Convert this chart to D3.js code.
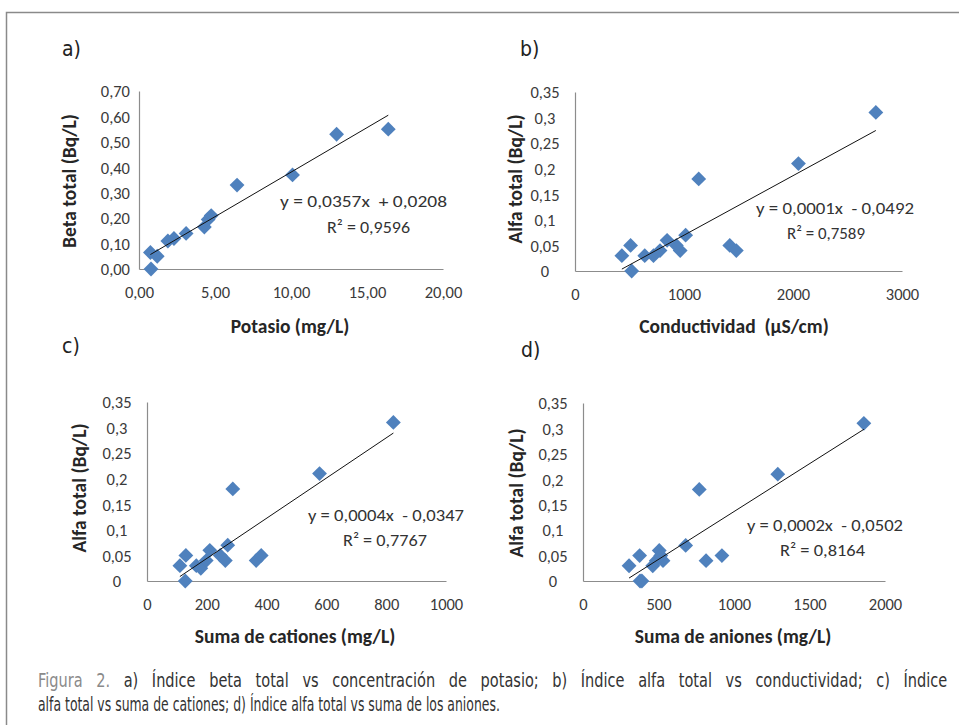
<!DOCTYPE html>
<html>
<head>
<meta charset="utf-8">
<script src="https://cdn.jsdelivr.net/npm/d3@7"></script>
<style>
  body { margin: 0; background: #fff; }
  svg { display: block; }
  text { font-family: Carlito, Lato, "Open Sans", sans-serif; white-space: pre; }
  .tick text { font-size: 16.5px; fill: #3a3a3a; }
  .axis-title { font-size: 19.5px; font-weight: bold; fill: #262626; }
  .eq { font-size: 17px; fill: #333; }
  .panel-tag { font-size: 21px; fill: #222; font-family: "Liberation Sans Narrow", "DejaVu Sans Condensed", Lato, sans-serif; }
  .caption { font-size: 19px; fill: #333; font-family: "Liberation Sans Narrow", "DejaVu Sans Condensed", Lato, sans-serif; }
</style>
</head>
<body>
<script>
// a) beta total vs potasio
const potasio = [0.79, 0.75, 1.2, 1.9, 2.3, 3.1, 4.3, 4.55, 4.75, 6.45, 10.1, 13.0, 16.4];
const betaTotal = [0, 0.065, 0.05, 0.11, 0.12, 0.14, 0.165, 0.195, 0.21, 0.33, 0.37, 0.53, 0.55];

// b) alfa total vs conductividad
const conductividad = [430, 510, 520, 640, 720, 780, 845, 930, 965, 1015, 1135, 1420, 1480, 2050, 2760];
const alfaB = [0.03, 0.05, 0, 0.03, 0.03, 0.04, 0.06, 0.05, 0.04, 0.07, 0.18, 0.05, 0.04, 0.21, 0.31];

// c) alfa total vs suma de cationes
const cationes = [110, 130, 128, 165, 180, 198, 210, 245, 262, 270, 287, 365, 382, 577, 824];
const alfaC = [0.03, 0.05, 0, 0.03, 0.025, 0.04, 0.06, 0.05, 0.04, 0.07, 0.18, 0.04, 0.05, 0.21, 0.31];

// d) alfa total vs suma de aniones
const aniones = [305, 375, 378, 390, 462, 485, 505, 530, 515, 680, 770, 815, 920, 1290, 1860];
const alfaD = [0.03, 0.05, 0, 0, 0.03, 0.04, 0.06, 0.04, 0.05, 0.07, 0.18, 0.04, 0.05, 0.21, 0.31];

// ticks
const xTicksA = [0, 5, 10, 15, 20];
const yTicksA = [0, 0.1, 0.2, 0.3, 0.4, 0.5, 0.6, 0.7];
const xTicksB = [0, 1000, 2000, 3000];
const xTicksC = [0, 200, 400, 600, 800, 1000];
const xTicksD = [0, 500, 1000, 1500, 2000];
const yTicksAlfa = [0, 0.05, 0.1, 0.15, 0.2, 0.25, 0.3, 0.35];

// texts
const tags = ["a)", "b)", "c)", "d)"];
const xTitles = ["Potasio (mg/L)", "Conductividad  (µS/cm)", "Suma de cationes (mg/L)", "Suma de aniones (mg/L)"];
const yTitles = ["Beta total (Bq/L)", "Alfa total (Bq/L)", "Alfa total (Bq/L)", "Alfa total (Bq/L)"];
const equations = ["y = 0,0357x  + 0,0208", "y = 0,0001x  - 0,0492", "y = 0,0004x  - 0,0347", "y = 0,0002x  - 0,0502"];
const r2Labels = ["R² = 0,9596", "R² = 0,7589", "R² = 0,7767", "R² = 0,8164"];
const captionLead = "Figura 2.";
const captionLine1 = " a) Índice beta total vs concentración de potasio; b) Índice alfa total vs conductividad; c) Índice";
const captionLine2 = "alfa total vs suma de cationes; d) Índice alfa total vs suma de los aniones.";

const es = d3.formatLocale({decimal: ",", thousands: "", grouping: [3], currency: ["", ""]});
const fmt2 = es.format(".2f");
const fmtG = es.format("~g");

const width = 959, height = 725;

const svg = d3.select("body").append("svg")
    .attr("width", width)
    .attr("height", height);

// frame
svg.append("path")
    .attr("d", `M6.5,${height} V12.5 H${width}`)
    .attr("fill", "none")
    .attr("stroke", "#8a8a8a")
    .attr("stroke-width", 1.5);

const panels = [
    {xs: potasio, ys: betaTotal, xMax: 20, yMax: 0.7, xTicks: xTicksA, yTicks: yTicksA, xf: fmt2, yf: fmt2,
     x0: 139, x1: 443, yBottom: 269, yTop: 91, yLabAnchor: "end", yLabX: -9,
     tag: [62, 56], xt: [290, 333], yt: [76, 181], eq: [280, 207, 167], r2: [327, 233, 83]},
    {xs: conductividad, ys: alfaB, xMax: 3000, yMax: 0.35, xTicks: xTicksB, yTicks: yTicksAlfa, xf: fmtG, yf: fmtG,
     x0: 575, x1: 902, yBottom: 271, yTop: 92, yLabAnchor: "middle", yLabX: -30,
     tag: [520, 56], xt: [734, 333], yt: [522, 179], eq: [756, 214, 158], r2: [787, 239, 78]},
    {xs: cationes, ys: alfaC, xMax: 1000, yMax: 0.35, xTicks: xTicksC, yTicks: yTicksAlfa, xf: fmtG, yf: fmtG,
     x0: 147, x1: 446, yBottom: 581, yTop: 402, yLabAnchor: "middle", yLabX: -30,
     tag: [62, 353], xt: [295, 643], yt: [86, 488], eq: [308, 521, 156], r2: [343, 546, 84]},
    {xs: aniones, ys: alfaD, xMax: 2000, yMax: 0.35, xTicks: xTicksD, yTicks: yTicksAlfa, xf: fmtG, yf: fmtG,
     x0: 583, x1: 885, yBottom: 581, yTop: 403, yLabAnchor: "middle", yLabX: -30,
     tag: [521, 357], xt: [733, 643], yt: [523, 493], eq: [747, 531, 156], r2: [780, 556, 85]}
];

// least squares fit
const fit = (xs, ys) => {
    const mx = d3.mean(xs), my = d3.mean(ys);
    const sxy = d3.sum(xs, (x, i) => (x - mx) * (ys[i] - my));
    const sxx = d3.sum(xs, x => (x - mx) * (x - mx));
    const b = sxy / sxx;
    return {b: b, a: my - b * mx};
};

const diamond = d3.symbol().type(d3.symbolSquare).size(110);

panels.forEach((p, k) => {
    const x = d3.scaleLinear().domain([0, p.xMax]).range([p.x0, p.x1]);
    const y = d3.scaleLinear().domain([0, p.yMax]).range([p.yBottom, p.yTop]);
    const g = svg.append("g");

    const xAxis = g.append("g")
        .attr("transform", `translate(0,${p.yBottom})`)
        .call(d3.axisBottom(x).tickValues(p.xTicks).tickFormat(p.xf).tickSize(0).tickSizeOuter(0));
    xAxis.selectAll(".tick text").attr("y", 23).attr("dy", "0.35em");

    const yAxis = g.append("g")
        .attr("transform", `translate(${p.x0},0)`)
        .call(d3.axisLeft(y).tickValues(p.yTicks).tickFormat(p.yf).tickSize(0).tickSizeOuter(0));
    yAxis.selectAll(".tick text")
        .attr("x", p.yLabX)
        .attr("dy", "0.35em")
        .attr("text-anchor", p.yLabAnchor);

    g.selectAll(".domain").attr("stroke", "#8c8c8c").attr("stroke-width", 1.2);
    g.selectAll(".tick text").attr("font-family", null).attr("font-size", null);

    // points
    const pts = p.xs.map((v, i) => [v, p.ys[i]]);
    g.append("g").selectAll("path")
        .data(pts)
        .enter()
        .append("path")
        .attr("d", diamond)
        .attr("transform", d => `translate(${x(d[0])},${y(d[1])}) rotate(45)`)
        .attr("fill", "#4f81bd");

    // trend line
    const f = fit(p.xs, p.ys);
    const ext = d3.extent(p.xs);
    g.append("line")
        .attr("x1", x(ext[0])).attr("y1", y(f.a + f.b * ext[0]))
        .attr("x2", x(ext[1])).attr("y2", y(f.a + f.b * ext[1]))
        .attr("stroke", "#111")
        .attr("stroke-width", 1);

    // texts
    g.append("text").attr("class", "eq").attr("x", p.eq[0]).attr("y", p.eq[1])
        .attr("textLength", p.eq[2]).attr("lengthAdjust", "spacingAndGlyphs")
        .text(equations[k]);
    g.append("text").attr("class", "eq").attr("x", p.r2[0]).attr("y", p.r2[1])
        .attr("textLength", p.r2[2]).attr("lengthAdjust", "spacingAndGlyphs")
        .text(r2Labels[k]);
    g.append("text").attr("class", "panel-tag").attr("x", p.tag[0]).attr("y", p.tag[1]).text(tags[k]);
    g.append("text").attr("class", "axis-title")
        .attr("x", p.xt[0]).attr("y", p.xt[1])
        .attr("text-anchor", "middle")
        .text(xTitles[k]);
    g.append("text").attr("class", "axis-title")
        .attr("transform", `translate(${p.yt[0]},${p.yt[1]}) rotate(-90)`)
        .attr("text-anchor", "middle")
        .text(yTitles[k]);
});

// caption: condensed glyphs, first line justified (extra word space)
const capLeft = 38, capLine1W = 910, capLine2W = 462, extraGap = 9;
const gaps = (captionLead + captionLine1).split(" ").length - 1;

const cap1g = svg.append("g");
const cap1 = cap1g.append("text").attr("class", "caption").attr("x", 0).attr("y", 687);
cap1.append("tspan").attr("fill", "#8a8a8a").text(captionLead);
cap1.append("tspan").text(captionLine1);
const natural1 = cap1.node().getComputedTextLength();
const s1 = (capLine1W - gaps * extraGap) / natural1;
cap1.style("word-spacing", `${extraGap / s1}px`);
cap1g.attr("transform", `translate(${capLeft},0) scale(${s1},1)`);

const cap2g = svg.append("g");
const cap2 = cap2g.append("text").attr("class", "caption").attr("x", 0).attr("y", 711).text(captionLine2);
const s2 = capLine2W / cap2.node().getComputedTextLength();
cap2g.attr("transform", `translate(${capLeft},0) scale(${s2},1)`);
</script>
</body>
</html>
